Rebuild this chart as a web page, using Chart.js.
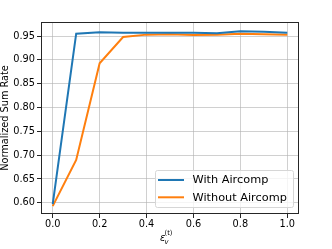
<!DOCTYPE html>
<html>
<head>
<meta charset="utf-8">
<script src="https://cdn.jsdelivr.net/npm/chart.js@4"></script>
<style>
  html, body { margin:0; padding:0; background:#fff; }
  #wrap { width:332px; height:249px; }
</style>
</head>
<body>
<div id="wrap"><canvas id="chart" width="332" height="249"></canvas></div>
<script>
const xVals = [0.0, 0.1, 0.2, 0.3, 0.4, 0.5, 0.6, 0.7, 0.8, 0.9, 1.0];
const withAircomp = [0.597, 0.955, 0.958, 0.957, 0.957, 0.957, 0.957, 0.956, 0.960, 0.959, 0.957];
const withoutAircomp = [0.593, 0.690, 0.893, 0.948, 0.953, 0.954, 0.952, 0.953, 0.955, 0.954, 0.953];
const xTicks = [0.0, 0.2, 0.4, 0.6, 0.8, 1.0];
const yTicks = [0.60, 0.65, 0.70, 0.75, 0.80, 0.85, 0.90, 0.95];
const seriesNames = ['With Aircomp', 'Without Aircomp'];
const seriesColors = ['#1f77b4', '#ff7f0e'];

const FONT = '"DejaVu Sans", sans-serif';

// spines + legend + math x label, drawn by hand like matplotlib
const mplExtras = {
  id: 'mplExtras',
  afterDraw(chart) {
    const ctx = chart.ctx, a = chart.chartArea;
    ctx.save();
    ctx.strokeStyle = '#262626';
    ctx.lineWidth = 1;
    ctx.strokeRect(Math.round(a.left) + 0.5, Math.round(a.top) + 0.5,
                   Math.round(a.right - a.left) - 1, Math.round(a.bottom - a.top) - 1);

    // legend box
    const bx = 155.5, by = 170.5, bw = 138, bh = 37;
    ctx.fillStyle = 'rgba(255,255,255,0.8)';
    ctx.strokeStyle = '#d6d6d6';
    ctx.beginPath();
    ctx.roundRect(bx, by, bw, bh, 2);
    ctx.fill();
    ctx.stroke();
    ctx.font = '11.3px ' + FONT;
    ctx.textBaseline = 'middle';
    ctx.textAlign = 'left';
    seriesNames.forEach((name, i) => {
      const ly = 180 + i * 17.3;
      ctx.strokeStyle = seriesColors[i];
      ctx.lineWidth = 2;
      ctx.beginPath();
      ctx.moveTo(158, ly);
      ctx.lineTo(184, ly);
      ctx.stroke();
      ctx.fillStyle = '#000';
      ctx.fillText(name, 192.5, ly + 0.5);
    });

    // x label: epsilon_v^(t)
    ctx.fillStyle = '#000';
    ctx.textBaseline = 'alphabetic';
    ctx.font = 'italic 9.8px ' + FONT;
    ctx.fillText('ε', 160, 241);
    ctx.font = 'italic 6.8px ' + FONT;
    ctx.fillText('v', 164.5, 244);
    ctx.font = '6.8px ' + FONT;
    ctx.fillText('(t)', 164.5, 235);
    ctx.restore();
  }
};

new Chart(document.getElementById('chart').getContext('2d'), {
  type: 'line',
  data: {
    labels: xVals,
    datasets: [
      { label: seriesNames[0], data: xVals.map((x, i) => ({ x, y: withAircomp[i] })), borderColor: seriesColors[0], borderWidth: 2, pointRadius: 0, tension: 0, fill: false },
      { label: seriesNames[1], data: xVals.map((x, i) => ({ x, y: withoutAircomp[i] })), borderColor: seriesColors[1], borderWidth: 2, pointRadius: 0, tension: 0, fill: false }
    ]
  },
  options: {
    responsive: false,
    animation: false,
    layout: { padding: { left: 0, top: 22, right: 33, bottom: 0 } },
    plugins: { legend: { display: false }, tooltip: { enabled: false } },
    scales: {
      x: {
        type: 'linear', min: -0.05, max: 1.05,
        afterBuildTicks: s => { s.ticks = xTicks.map(v => ({ value: v })); },
        afterFit: s => { s.height = 35; },
        ticks: { font: { family: FONT, size: 9.75 }, color: '#000', padding: 1, maxRotation: 0, callback: v => v.toFixed(1) },
        grid: { color: 'rgba(176,176,176,0.6)', lineWidth: 1, drawTicks: true, tickLength: 4, tickColor: '#262626' },
        border: { display: false }
      },
      y: {
        min: 0.5765, max: 0.9795,
        afterBuildTicks: s => { s.ticks = yTicks.map(v => ({ value: v })); },
        afterFit: s => { s.width = 41; },
        ticks: { font: { family: FONT, size: 9.75 }, color: '#000', padding: 2, callback: v => v.toFixed(2) },
        grid: { color: 'rgba(176,176,176,0.6)', lineWidth: 1, drawTicks: true, tickLength: 4, tickColor: '#262626' },
        border: { display: false },
        title: { display: true, text: 'Normalized Sum Rate', font: { family: FONT, size: 9.75 }, color: '#000', padding: { top: 0, bottom: 0 } }
      }
    }
  },
  plugins: [mplExtras]
});
</script>
</body>
</html>
